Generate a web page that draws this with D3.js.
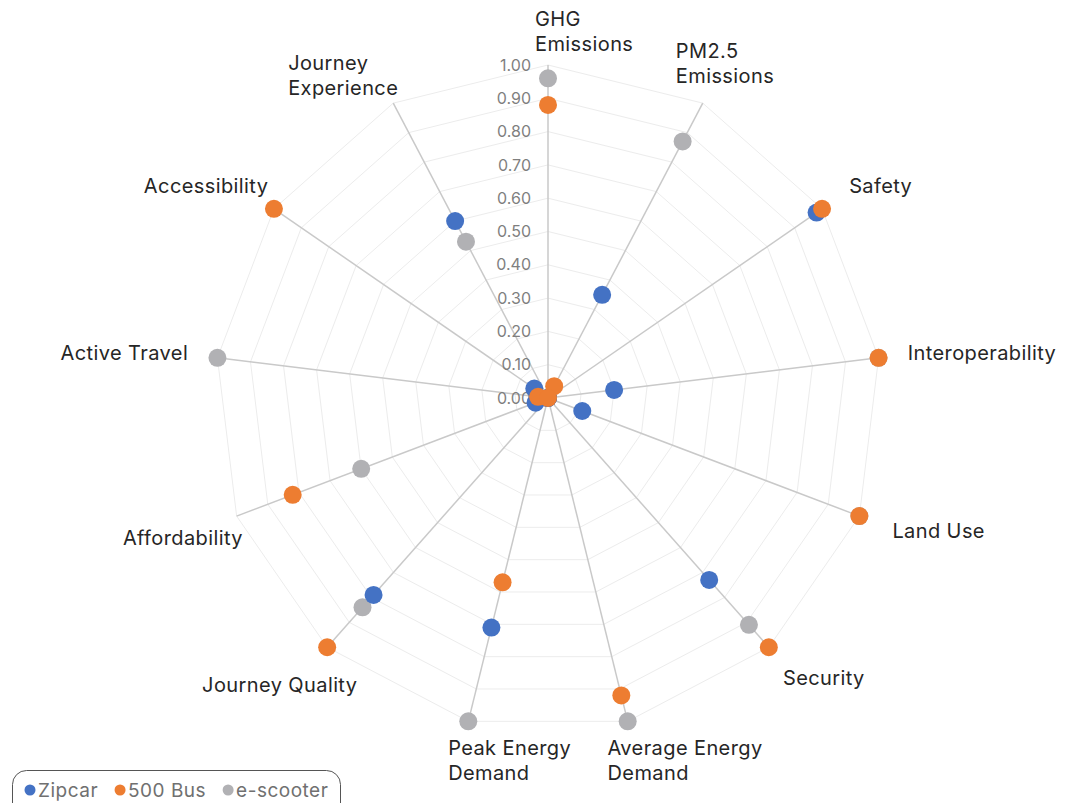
<!DOCTYPE html>
<html lang="en">
<head>
<meta charset="UTF-8">
<title>Mode comparison radar</title>
<script src="https://d3js.org/d3.v7.min.js"></script>
<style>
  body { margin: 0; background: #fff; }
  text { font-family: Inter, "Noto Sans", sans-serif; }
</style>
</head>
<body>
<div id="chart"></div>
<script>
const width = 1073;
const height = 803;

// axes, clockwise from the top
const axes = ["GHG Emissions", "PM2.5 Emissions", "Safety", "Interoperability", "Land Use",
  "Security", "Average Energy Demand", "Peak Energy Demand", "Journey Quality",
  "Affordability", "Active Travel", "Accessibility", "Journey Experience"];
// how each axis label wraps
const axisLabelLines = [["GHG", "Emissions"], ["PM2.5", "Emissions"], ["Safety"], ["Interoperability"],
  ["Land Use"], ["Security"], ["Average Energy", "Demand"], ["Peak Energy", "Demand"],
  ["Journey Quality"], ["Affordability"], ["Active Travel"], ["Accessibility"], ["Journey", "Experience"]];

const seriesNames = ["Zipcar", "500 Bus", "e-scooter"];
const zipcar   = [0.00, 0.35, 0.98, 0.20, 0.11, 0.73, 0.00, 0.71, 0.79, 0.04, 0.00, 0.05, 0.60];
const bus500   = [0.88, 0.04, 1.00, 1.00, 1.00, 1.00, 0.92, 0.57, 1.00, 0.82, 0.03, 1.00, 0.00];
const escooter = [0.96, 0.87, 0.00, 1.00, 1.00, 0.91, 1.00, 1.00, 0.84, 0.60, 1.00, 0.00, 0.53];
const tickValues = [0, 0.1, 0.2, 0.3, 0.4, 0.5, 0.6, 0.7, 0.8, 0.9, 1.0];

const colors = ["#4472C4", "#ED7D31", "#B1B1B4"];
const cx = 548, cy = 398, R = 333;

const rScale = d3.scaleLinear().domain([0, 1]).range([0, R]);
const aScale = d3.scaleLinear().domain([0, axes.length]).range([0, 2 * Math.PI]);

const svg = d3.select("#chart").append("svg")
  .attr("width", width).attr("height", height);

const g = svg.append("g").attr("transform", `translate(${cx},${cy})`);

// polar helper
function pt(i, v) {
  const a = aScale(i);
  return [Math.sin(a) * rScale(v), -Math.cos(a) * rScale(v)];
}

// grid polygons
const ring = d3.lineRadial()
  .angle((d, i) => aScale(i))
  .radius(d => rScale(d))
  .curve(d3.curveLinearClosed);

g.selectAll(".grid")
  .data(tickValues.slice(1))
  .join("path")
  .attr("class", "grid")
  .attr("d", v => ring(axes.map(() => v)))
  .attr("fill", "none")
  .attr("stroke", "#ececec")
  .attr("stroke-width", 1);

// spokes
g.selectAll(".spoke")
  .data(axes)
  .join("line")
  .attr("class", "spoke")
  .attr("x1", 0).attr("y1", 0)
  .attr("x2", (d, i) => pt(i, 1)[0])
  .attr("y2", (d, i) => pt(i, 1)[1])
  .attr("stroke", "#c9c9c9")
  .attr("stroke-width", 1.5);

// tick labels on the first axis
g.selectAll(".tick-label")
  .data(tickValues)
  .join("text")
  .attr("class", "tick-label")
  .attr("x", -17)
  .attr("y", v => -rScale(v))
  .attr("dy", "0.35em")
  .attr("text-anchor", "end")
  .attr("fill", "#7f7f7f")
  .attr("font-size", 16)
  .text(d3.format(".2f"));

// axis labels
const lineGap = 25;
const labels = g.selectAll(".axis-label")
  .data(axisLabelLines)
  .join("text")
  .attr("class", "axis-label")
  .attr("fill", "#262626")
  .attr("font-size", 20)
  .attr("letter-spacing", 0.4);

labels.each(function (lines, i) {
  const t = d3.select(this);
  const tsp = t.selectAll("tspan").data(lines).join("tspan").text(d => d);
  const w = d3.max(tsp.nodes(), n => n.getComputedTextLength());
  const h = (lines.length - 1) * lineGap + 22;
  const a = aScale(i), s = Math.sin(a), c = Math.cos(a);
  let left, top;
  if (lines.length === 1) {
    const px = s * (R + 30), py = -c * (R + 30);
    const lowerLeft = s < 0 && c < 0;
    left = px - w * (1 - s) / 2 + (Math.abs(s) > 0.97 ? 0 : 8) + (lowerLeft ? 24 * Math.abs(s) : 0);
    top = py - h * (1 + c) / 2 + (lowerLeft ? 7 : 0);
  } else {
    const [ex, ey] = pt(i, 1);
    left = s < -0.3 ? ex + 5 - w : ex - 13 - 30 * Math.abs(s);
    top = c > 0 ? ey - 10 - h - 13 * s : ey + 16;
  }
  tsp.attr("x", left)
    .attr("y", (d, k) => top + 11 + k * lineGap)
    .attr("dominant-baseline", "central");
});

// markers, grey underneath
const series = [escooter, zipcar, bus500];
const seriesColor = [colors[2], colors[0], colors[1]];
series.forEach((vals, si) => {
  g.append("g").selectAll("circle")
    .data(vals)
    .join("circle")
    .attr("cx", (v, i) => pt(i, v)[0])
    .attr("cy", (v, i) => pt(i, v)[1])
    .attr("r", 9)
    .attr("fill", seriesColor[si]);
});

// legend
const legend = svg.append("g").attr("transform", "translate(12,770)");
legend.append("rect")
  .attr("x", 0.5).attr("y", 0.5)
  .attr("width", 328).attr("height", 50)
  .attr("rx", 14)
  .attr("fill", "#fff")
  .attr("stroke", "#555")
  .attr("stroke-width", 1);

let lx = 18;
seriesNames.forEach((name, i) => {
  legend.append("circle")
    .attr("cx", lx).attr("cy", 20).attr("r", 5.5)
    .attr("fill", colors[i]);
  const txt = legend.append("text")
    .attr("x", lx + 8).attr("y", 20)
    .attr("dominant-baseline", "central")
    .attr("fill", "#707070")
    .attr("font-size", 19)
    .attr("letter-spacing", 0.5)
    .text(name);
  lx += 8 + txt.node().getComputedTextLength() + 22;
});
</script>
</body>
</html>
